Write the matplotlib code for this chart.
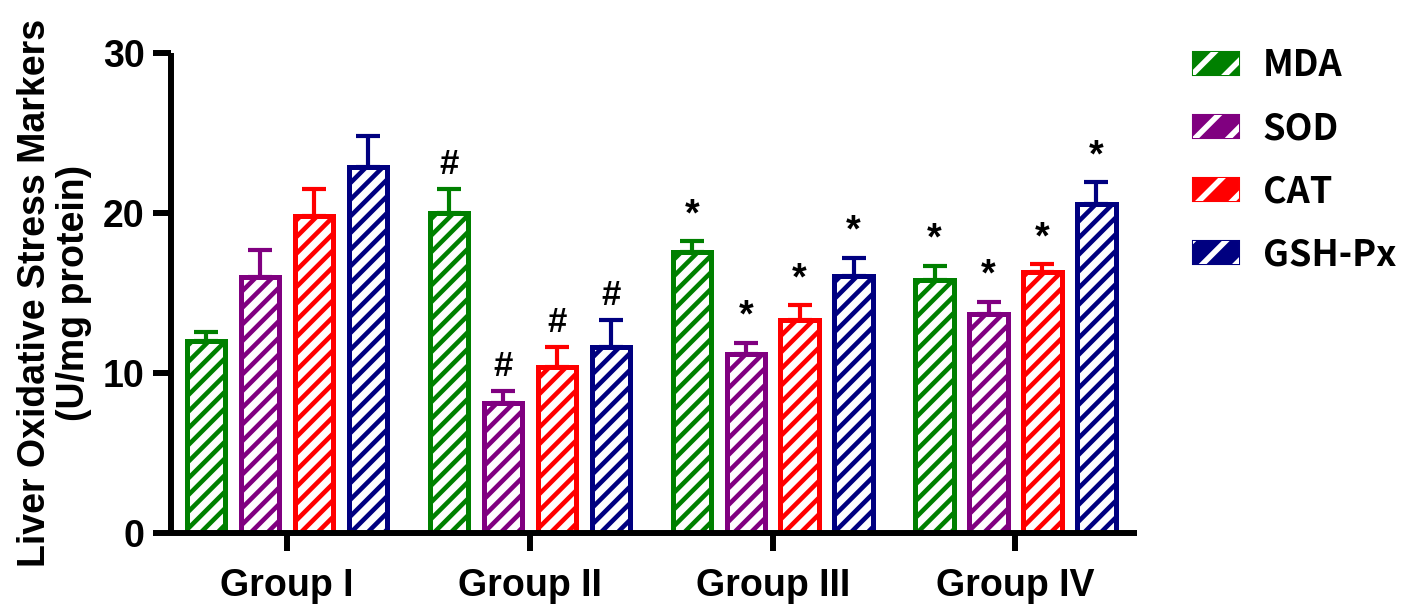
import matplotlib.pyplot as plt
import numpy as np
from matplotlib.patches import Patch
from matplotlib.legend_handler import HandlerTuple

groups = ["Group I", "Group II", "Group III", "Group IV"]
markers = ["MDA", "SOD", "CAT", "GSH-Px"]
colors = ["#008000", "#800080", "#ff0000", "#000080"]

# mean values per marker, one entry per group
mda = [12.0, 20.0, 17.6, 15.8]
sod = [16.0, 8.1, 11.2, 13.7]
cat = [19.8, 10.4, 13.3, 16.3]
gsh = [22.9, 11.6, 16.1, 20.6]

# upper error (SEM)
mda_err = [0.55, 1.5, 0.65, 0.9]
sod_err = [1.7, 0.8, 0.7, 0.75]
cat_err = [1.7, 1.2, 0.95, 0.5]
gsh_err = [1.9, 1.7, 1.1, 1.35]

# significance marks above the error bars
mda_sig = ["", "#", "*", "*"]
sod_sig = ["", "#", "*", "*"]
cat_sig = ["", "#", "*", "*"]
gsh_sig = ["", "#", "*", "*"]

means = [mda, sod, cat, gsh]
errs = [mda_err, sod_err, cat_err, gsh_err]
sigs = [mda_sig, sod_sig, cat_sig, gsh_sig]

plt.rcParams["font.family"] = ["Liberation Sans", "DejaVu Sans"]
plt.rcParams["hatch.linewidth"] = 3.3

fig = plt.figure(figsize=(14.06, 6.08), dpi=100)
ax = fig.add_axes([0.1216, 0.1234, 0.687, 0.789])

x = np.arange(len(groups))
pitch = 0.222
width = 0.158

for i, (vals, err, sig, col) in enumerate(zip(means, errs, sigs, colors)):
    pos = x + (i - 1.5) * pitch
    ax.bar(pos, vals, width, facecolor="white", edgecolor=col, hatch="//",
           linewidth=3.6, zorder=2)
    ax.errorbar(pos, vals, yerr=[np.zeros(len(vals)), err], fmt="none",
                ecolor=col, elinewidth=3.0, capsize=8.5, capthick=3.0, zorder=1)
    for p, v, e, s in zip(pos, vals, err, sig):
        if s:
            ax.text(p, v + e + 0.5, s, ha="center", va="bottom",
                    fontsize=25 if s == "#" else 27, fontweight="bold",
                    color="black")

ax.set_xlim(-0.478, 3.5)
ax.set_ylim(0, 30)
ax.set_yticks([0, 10, 20, 30])
ax.set_xticks(x)
ax.set_xticklabels(groups, fontsize=27, fontweight="bold")

for side in ("top", "right"):
    ax.spines[side].set_visible(False)
for side in ("left", "bottom"):
    ax.spines[side].set_linewidth(4.3)
    ax.spines[side].set_capstyle("butt")

ax.tick_params(axis="y", length=13, width=4.3, labelsize=27, pad=6)
ax.tick_params(axis="x", length=13, width=4.3, pad=12)
for lbl in ax.get_yticklabels():
    lbl.set_fontweight("bold")

ax.set_ylabel("Liver Oxidative Stress Markers\n(U/mg protein)", fontsize=27,
              fontweight="bold", linespacing=1.1, labelpad=8)

# legend swatches: solid colour with white diagonal stripes
plt.rcParams["hatch.linewidth"] = 4.0
handles = [
    (Patch(facecolor=c, edgecolor=c, linewidth=1.5),
     Patch(facecolor="none", edgecolor="white", hatch="/", linewidth=0.01))
    for c in colors
]
leg = fig.legend(handles, markers, handler_map={tuple: HandlerTuple(ndivide=1)},
                 loc="upper left", bbox_to_anchor=(0.8485, 0.922), frameon=False,
                 handlelength=1.27, handleheight=0.61, handletextpad=0.66,
                 labelspacing=0.72, borderaxespad=0, borderpad=0,
                 prop={"family": ["Noto Sans CJK KR", "DejaVu Sans"],
                       "weight": "bold", "size": 26})

fig.savefig("out.png", dpi=100)
